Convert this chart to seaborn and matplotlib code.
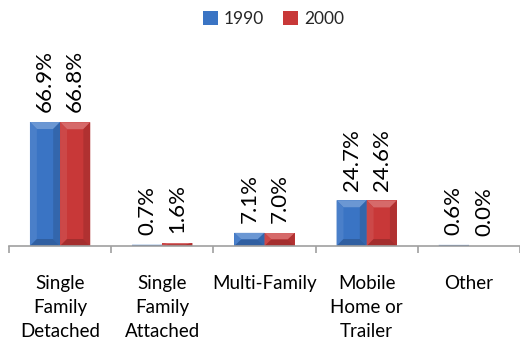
import matplotlib
matplotlib.use("Agg")
import matplotlib.pyplot as plt
import seaborn as sns
import pandas as pd
from matplotlib.patches import Polygon
from matplotlib.colors import to_rgb

# Housing type shares by census year
categories = ["Single\nFamily\nDetached", "Single\nFamily\nAttached", "Multi-Family",
              "Mobile\nHome or\nTrailer", "Other"]
years = ["1990", "2000"]
share_1990 = [66.9, 0.7, 7.1, 24.7, 0.6]
share_2000 = [66.8, 1.6, 7.0, 24.6, 0.0]
colors = ["#3A74C4", "#C83838"]

df = pd.DataFrame({
    "category": categories * 2,
    "year": [years[0]] * len(categories) + [years[1]] * len(categories),
    "share": share_1990 + share_2000,
})

sns.set_theme(style="white")
plt.rcParams["font.family"] = ["Lato", "DejaVu Sans"]

W, H = 520, 343
fig = plt.figure(figsize=(W / 100, H / 100), dpi=100)
ax = fig.add_axes([9 / W, 97 / H, 511 / W, 246 / H])

sns.barplot(data=df, x="category", y="share", hue="year", palette=colors,
            width=0.59, saturation=1, linewidth=0, ax=ax)

px_x = 103.5          # pixels per category
px_y = 246 / 132.76   # pixels per percentage point
ax.set_xlim(-0.5, -0.5 + 511 / px_x)
ax.set_ylim(0, 132.76)


def shade(c, f):
    r, g, b = to_rgb(c)
    if f >= 0:
        return (r + (1 - r) * f, g + (1 - g) * f, b + (1 - b) * f)
    return (r * (1 + f), g * (1 + f), b * (1 + f))


# Bevelled faces on each bar
bev_x = 7 / px_x
bev_y = 7 / px_y
for cont, col in zip(ax.containers, colors):
    for p in cont.patches:
        x0, y0 = p.get_x(), p.get_y()
        w, h = p.get_width(), p.get_height()
        if h <= 0:
            continue
        by = min(bev_y, h / 2)
        bx = min(bev_x, w / 2)
        x1, y1 = x0 + w, y0 + h
        faces = [
            ([(x0, y1), (x1, y1), (x1 - bx, y1 - by), (x0 + bx, y1 - by)], shade(col, 0.25)),
            ([(x0, y0), (x0, y1), (x0 + bx, y1 - by), (x0 + bx, y0 + by)], shade(col, 0.08)),
            ([(x1, y0), (x1, y1), (x1 - bx, y1 - by), (x1 - bx, y0 + by)], shade(col, -0.12)),
            ([(x0, y0), (x1, y0), (x1 - bx, y0 + by), (x0 + bx, y0 + by)], shade(col, -0.18)),
        ]
        for pts, fc in faces:
            ax.add_patch(Polygon(pts, closed=True, facecolor=fc, edgecolor="none",
                                 zorder=p.get_zorder() + 0.1))

# Value labels above bars
for cont in ax.containers:
    ax.bar_label(cont, fmt="{:.1f}%", padding=7, rotation=90, fontsize=16, color="#000000")

# Axes styling
for side in ["left", "right", "top"]:
    ax.spines[side].set_visible(False)
ax.spines["bottom"].set_color("#A0A0A0")
ax.spines["bottom"].set_linewidth(1.2)
ax.set_yticks([])
ax.set_xlabel("")
ax.set_ylabel("")
ax.set_xticks(range(len(categories)))
ax.set_xticks([i - 0.5 for i in range(len(categories) + 1)], minor=True)
ax.tick_params(axis="x", which="major", length=0, pad=21, labelsize=13.5, labelcolor="#000000")
ax.tick_params(axis="x", which="minor", length=5, width=1.2, color="#A0A0A0", bottom=True)
for lbl in ax.get_xticklabels():
    lbl.set_linespacing(1.5)

handles, labels = ax.get_legend_handles_labels()
ax.get_legend().remove()
fig.legend(handles, labels, loc="center", bbox_to_anchor=(273.5 / W, 1 - 19 / H), ncol=2,
           frameon=False, fontsize=12.5, handlelength=0.85, handleheight=0.85,
           handletextpad=0.36, columnspacing=1.1)

fig.savefig("out.png", dpi=100)
